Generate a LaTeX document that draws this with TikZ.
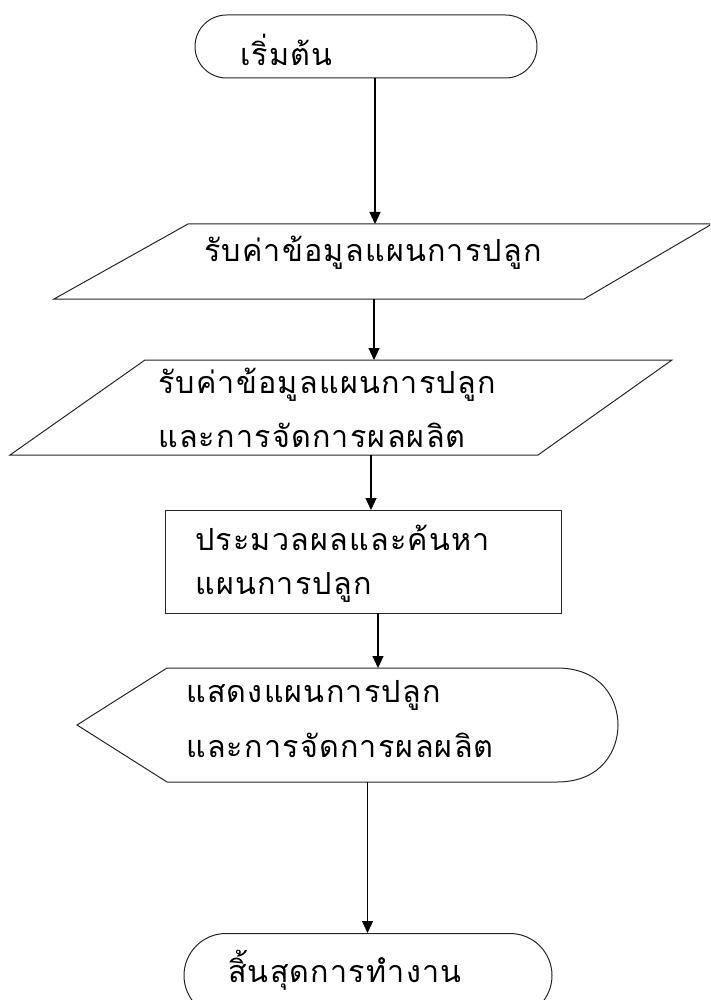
\documentclass[tikz,border=0pt]{standalone}
\usepackage{fontspec}
\newfontfamily\thaifont[Script=Thai,LetterSpace=4]{Loma}
\usetikzlibrary{arrows.meta,shapes.misc}
\begin{document}
\begin{tikzpicture}[x=1pt,y=-1pt,
  shp/.style={draw=black!85, line width=1pt},
  term/.style={shp, rounded rectangle, inner sep=0pt},
  lbl/.style={anchor=west, inner sep=0pt, font=\thaifont\fontsize{30.5}{36}\selectfont},
  arr/.style={draw=black, line width=1.2pt, -{Triangle[length=12pt,width=11pt]}}]
\clip (0,0) rectangle (710,1000);
% start
\node[term, minimum width=342pt, minimum height=63pt] (start) at (366,46.5) {};
\node[lbl] (tstart) at (240,50) {เริ่มต้น};
% input 1
\draw[shp] (188,224) -- (712,224) -- (584,299) -- (54,299) -- cycle;
\coordinate (in1top) at (375,224);
\coordinate (in1bot) at (374,299);
\node[lbl] (tin1) at (204,253) {รับค่าข้อมูลแผนการปลูก};
% input 2
\draw[shp] (145,360) -- (672,360) -- (538,455) -- (10,455) -- cycle;
\coordinate (in2top) at (374,360);
\coordinate (in2bot) at (371,455);
\node[lbl] (tin2a) at (158,385) {รับค่าข้อมูลแผนการปลูก};
\node[lbl] (tin2b) at (158,435) {และการจัดการผลผลิต};
% process
\draw[shp] (165,510) rectangle (561,613);
\coordinate (proctop) at (371,510);
\coordinate (procbot) at (378,613);
\node[lbl] (tproca) at (195,538) {ประมวลผลและค้นหา};
\node[lbl] (tprocb) at (195,587) {แผนการปลูก};
% display
\draw[shp] (77,725) -- (167,668) -- (557,668)
  .. controls (602,668) and (618,700) .. (618,725)
  .. controls (618,750) and (602,782) .. (557,782) -- (167,782) -- cycle;
\coordinate (disptop) at (378,668);
\coordinate (dispbot) at (367.5,782);
\node[lbl] (tdispa) at (186,695) {แสดงแผนการปลูก};
\node[lbl] (tdispb) at (186,745) {และการจัดการผลผลิต};
% end
\node[term, minimum width=368pt, minimum height=84pt, anchor=north] (stop) at (368,933) {};
\node[lbl] (tstop) at (228,970) {สิ้นสุดการทำงาน};
% arrows
\draw[arr] (start.south -| in1top) -- (in1top);
\draw[arr] (in1bot) -- (in2top);
\draw[arr] (in2bot) -- (proctop);
\draw[arr] (procbot) -- (disptop);
\draw[arr] (dispbot) -- (dispbot |- stop.north);
\end{tikzpicture}
\end{document}
